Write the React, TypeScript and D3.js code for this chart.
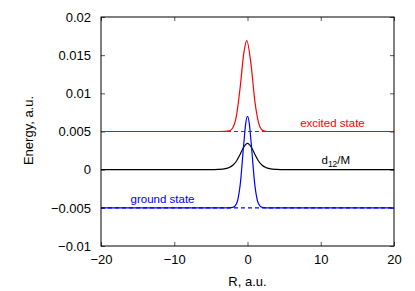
import React, { useRef, useEffect } from 'react';
import * as d3 from 'd3';

// values
const excitedR = [-20, -4, -3, -2.5, -2, -1.5, -1, -0.5, -0.1, 0.5, 1, 1.5, 2, 2.5, 3, 4, 20];
const excitedE = [0.005, 0.005, 0.00502, 0.00508, 0.0055, 0.0071, 0.0108, 0.0153, 0.0169, 0.0136, 0.009, 0.0062, 0.0052, 0.00503, 0.005, 0.005, 0.005];

const groundR = [-20, -3, -2.5, -2, -1.5, -1, -0.5, -0.25, 0, 0.25, 0.5, 1, 1.5, 2, 2.5, 3, 20];
const groundE = [-0.005, -0.005, -0.005, -0.00495, -0.00447, -0.002, 0.0035, 0.006, 0.007, 0.006, 0.0035, -0.002, -0.00447, -0.00495, -0.005, -0.005, -0.005];

const d12R = [-20, -5, -4, -3, -2.5, -2, -1.5, -1, -0.5, 0, 0.5, 1, 1.5, 2, 2.5, 3, 4, 5, 20];
const d12E = [0, 0, 0.00003, 0.00013, 0.00028, 0.00058, 0.00114, 0.00201, 0.00298, 0.00345, 0.00298, 0.00201, 0.00114, 0.00058, 0.00028, 0.00013, 0.00003, 0, 0];

const xTicks = [-20, -10, 0, 10, 20];
const yTicks = [-0.01, -0.005, 0, 0.005, 0.01, 0.015, 0.02];

const FONT = '"Liberation Sans", Arial, sans-serif';

function App() {
  const ref = useRef<SVGSVGElement>(null);
  const outerWidth = 415, outerHeight = 291;
  const margin = { top: 17, right: 21, bottom: 45, left: 101 };
  const width = outerWidth - margin.left - margin.right,
    height = outerHeight - margin.top - margin.bottom;

  useEffect(() => {
    const svg = d3.select(ref.current);
    svg.selectAll('*').remove();
    const plot = svg.append('g').attr('transform', `translate(${margin.left},${margin.top})`);

    const x = d3.scaleLinear().domain([-20, 20]).range([0, width]);
    const y = d3.scaleLinear().domain([-0.01, 0.02]).range([height, 0]);

    const fmtY = d3.format('~g');
    const fmtX = d3.format('d');

    // axes with inward ticks on all four sides
    const bottom = d3.axisBottom(x).tickValues(xTicks).tickSizeInner(-4).tickSizeOuter(0).tickPadding(9).tickFormat((d) => fmtX(d as number));
    const top = d3.axisTop(x).tickValues(xTicks).tickSizeInner(-4).tickSizeOuter(0).tickFormat(() => '');
    const left = d3.axisLeft(y).tickValues(yTicks).tickSizeInner(-4).tickSizeOuter(0).tickPadding(10).tickFormat((d) => fmtY(d as number));
    const right = d3.axisRight(y).tickValues(yTicks).tickSizeInner(-4).tickSizeOuter(0).tickFormat(() => '');

    const styleAxis = (g) => {
      g.select('.domain').remove();
      g.selectAll('line').attr('stroke', '#555');
      g.selectAll('text').attr('font-family', FONT).attr('font-size', 13).attr('fill', '#000');
    };
    plot.append('g').attr('transform', `translate(0,${height})`).call(bottom).call(styleAxis);
    plot.append('g').call(top).call(styleAxis);
    plot.append('g').call(left).call(styleAxis);
    plot.append('g').attr('transform', `translate(${width},0)`).call(right).call(styleAxis);

    const line = d3.line<[number, number]>()
      .x((d) => x(d[0]))
      .y((d) => y(d[1]))
      .curve(d3.curveMonotoneX);

    const series = [
      { r: d12R, e: d12E, color: '#000', base: null },
      { r: excitedR, e: excitedE, color: '#f00', base: 0.005 },
      { r: groundR, e: groundE, color: '#00f', base: -0.005 },
    ];
    series.forEach((s) => {
      const pts = s.r.map((r, i) => [r, s.e[i]] as [number, number]);
      plot.append('path')
        .attr('d', line(pts))
        .attr('fill', 'none')
        .attr('stroke', s.color)
        .attr('stroke-width', 1.2);
      if (s.base !== null) {
        plot.append('line')
          .attr('x1', x(-20)).attr('x2', x(20))
          .attr('y1', y(s.base)).attr('y2', y(s.base))
          .attr('stroke', s.color)
          .attr('stroke-width', 1.2)
          .attr('stroke-dasharray', '4,3');
      }
    });

    // frame
    plot.append('rect')
      .attr('width', width).attr('height', height)
      .attr('fill', 'none').attr('stroke', '#000').attr('stroke-width', 1);

    // curve labels
    plot.append('text')
      .attr('x', x(11.6)).attr('y', y(0.005) - 5)
      .attr('text-anchor', 'middle')
      .attr('font-family', FONT).attr('font-size', 11.5).attr('fill', '#f00')
      .text('excited state');
    const d12 = plot.append('text')
      .attr('x', x(10.1)).attr('y', y(0) - 6)
      .attr('font-family', FONT).attr('font-size', 11.5).attr('fill', '#000');
    d12.append('tspan').text('d');
    d12.append('tspan').attr('font-size', 8.5).attr('dy', 3).text('12');
    d12.append('tspan').attr('dy', -3).text('/M');
    plot.append('text')
      .attr('x', x(-11.6)).attr('y', y(-0.005) - 5)
      .attr('text-anchor', 'middle')
      .attr('font-family', FONT).attr('font-size', 11.5).attr('fill', '#00f')
      .text('ground state');

    // axis titles
    svg.append('text')
      .attr('x', margin.left + width / 2).attr('y', 286)
      .attr('text-anchor', 'middle')
      .attr('font-family', FONT).attr('font-size', 13)
      .text('R, a.u.');
    svg.append('text')
      .attr('transform', `translate(33,${margin.top + height / 2 - 1}) rotate(-90)`)
      .attr('text-anchor', 'middle')
      .attr('font-family', FONT).attr('font-size', 13)
      .text('Energy, a.u.');
  }, []);

  return (
    <svg ref={ref} width={outerWidth} height={outerHeight}
      style={{ position: 'absolute', left: 0, top: 0, background: '#fff' }}>
    </svg>
  );
}

export default App;
